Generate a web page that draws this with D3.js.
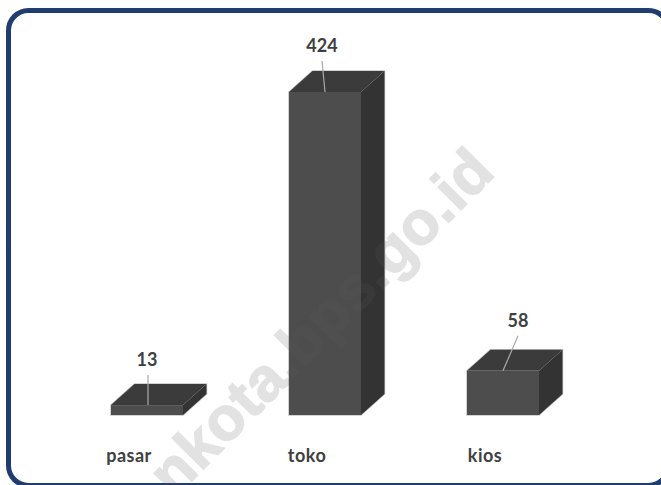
<!DOCTYPE html>
<html>
<head>
<meta charset="utf-8">
<script src="https://cdn.jsdelivr.net/npm/d3@7"></script>
<style>
  html, body { margin: 0; padding: 0; background: #fff; overflow: hidden; }
  svg { display: block; }
  text { font-family: Lato, "Open Sans", sans-serif; font-weight: 700; fill: #404040; }
</style>
</head>
<body>
<div id="chart"></div>
<script>
const categories = ["pasar", "toko", "kios"];
const values = [13, 424, 58];
const watermark = "nkota.bps.go.id";

const width = 661,
  height = 485,
  depthX = 23.5,
  depthY = 21;

const svg = d3
  .select("#chart")
  .append("svg")
  .attr("width", width)
  .attr("height", height);

// frame, runs off the right and bottom edges like the screenshot
svg
  .append("rect")
  .attr("x", 8.5)
  .attr("y", 10.5)
  .attr("width", 660)
  .attr("height", 475)
  .attr("rx", 20)
  .attr("fill", "#fff")
  .attr("stroke", "#1f3d6d")
  .attr("stroke-width", 5);

const xScale = d3
  .scaleBand()
  .domain(categories)
  .range([111, 539])
  .paddingInner(0.5955)
  .paddingOuter(0);

const yScale = d3.scaleLinear().domain([0, 424]).range([415, 92]);

const bars = svg
  .selectAll("g.bar")
  .data(values)
  .enter()
  .append("g")
  .attr("class", "bar");

const left = (i) => xScale(categories[i]);
const right = (i) => left(i) + xScale.bandwidth();

// light edge around each box
bars
  .append("path")
  .attr("d", (d, i) => {
    const top = yScale(d), base = yScale(0);
    return `M${left(i)},${base}V${top}L${left(i) + depthX},${top - depthY}H${right(i) + depthX}V${base - depthY}L${right(i)},${base}Z`;
  })
  .attr("fill", "none")
  .attr("stroke", "#c4c4c4")
  .attr("stroke-width", 1.5);

// top face
bars
  .append("path")
  .attr("d", (d, i) => {
    const top = yScale(d);
    return `M${left(i)},${top}L${left(i) + depthX},${top - depthY}H${right(i) + depthX}L${right(i)},${top}Z`;
  })
  .attr("fill", "#3b3b3b");

// side face
bars
  .append("path")
  .attr("d", (d, i) => {
    const top = yScale(d), base = yScale(0);
    return `M${right(i)},${top}L${right(i) + depthX},${top - depthY}V${base - depthY}L${right(i)},${base}Z`;
  })
  .attr("fill", "#333333");

// front face
bars
  .append("rect")
  .attr("x", (d, i) => left(i))
  .attr("y", (d) => yScale(d))
  .attr("width", xScale.bandwidth())
  .attr("height", (d) => yScale(0) - yScale(d))
  .attr("fill", "#4d4d4d");

// data labels sit off centre with leader lines
const labelShift = [0, -3, 15];
const labelRise = [39, 40, 44];
const center = (i) => left(i) + xScale.bandwidth() / 2;

bars
  .append("line")
  .attr("x1", (d, i) => center(i) + labelShift[i] + (i == 0 ? 1 : 0))
  .attr("y1", (d, i) => yScale(d) - labelRise[i] + 9)
  .attr("x2", (d, i) => center(i) + (i == 0 ? 1 : 0))
  .attr("y2", (d) => yScale(d))
  .attr("stroke", "#a9a9a9")
  .attr("stroke-width", 1.2);

bars
  .append("text")
  .attr("x", (d, i) => center(i) + labelShift[i])
  .attr("y", (d, i) => yScale(d) - labelRise[i])
  .attr("text-anchor", "middle")
  .attr("font-size", 18)
  .text((d) => d);

// category labels
const xAxis = d3.axisBottom(xScale).tickSize(0).tickPadding(0);

const axisG = svg
  .append("g")
  .attr("transform", "translate(0,449)")
  .call(xAxis);

axisG.select(".domain").remove();
axisG
  .selectAll("text")
  .attr("font-family", null)
  .attr("font-size", 18)
  .attr("dx", "-18px")
  .style("letter-spacing", "0.5px");

// site watermark on top of everything
svg
  .append("text")
  .attr("transform", "translate(174,499) rotate(-45.2)")
  .attr("font-size", 61)
  .style("font-family", "'Liberation Sans', Arial, sans-serif")
  .style("font-weight", 700)
  .style("letter-spacing", "0.5px")
  .style("fill", "#5a5a5a")
  .style("stroke", "#5a5a5a")
  .style("stroke-width", 1.5)
  .style("opacity", 0.17)
  .text(watermark);
</script>
</body>
</html>
